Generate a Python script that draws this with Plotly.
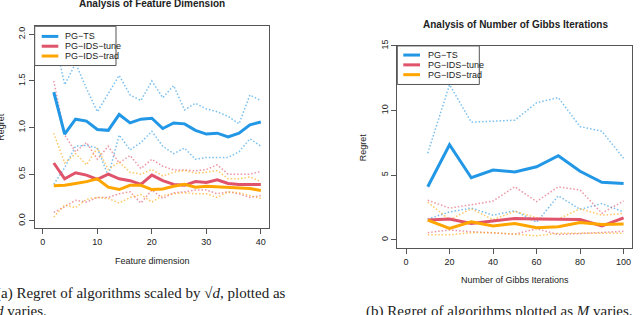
import plotly.graph_objects as go

# ---------------- data ----------------
dims = [2, 4, 6, 8, 10, 12, 14, 16, 18, 20, 22, 24, 26, 28, 30, 32, 34, 36, 38, 40]
ts_mean = [1.38, 0.93, 1.09, 1.07, 0.98, 0.97, 1.14, 1.05, 1.09, 1.10, 0.99, 1.05, 1.04, 0.97, 0.93, 0.94, 0.90, 0.94, 1.03, 1.06]
ts_upper = [2.00, 1.46, 1.69, 1.42, 1.17, 1.36, 1.56, 1.35, 1.29, 1.50, 1.32, 1.45, 1.19, 1.26, 1.20, 1.17, 1.12, 1.04, 1.35, 1.29]
ts_lower = [0.39, 0.57, 0.80, 0.81, 0.78, 0.48, 0.92, 0.76, 0.84, 0.96, 0.80, 0.72, 0.78, 0.66, 0.68, 0.68, 0.68, 0.74, 0.88, 0.80]
tune_mean = [0.62, 0.45, 0.515, 0.49, 0.445, 0.50, 0.45, 0.43, 0.39, 0.49, 0.43, 0.39, 0.38, 0.42, 0.41, 0.44, 0.40, 0.39, 0.39, 0.39]
tune_upper = [1.50, 0.92, 0.74, 0.84, 0.66, 0.80, 0.62, 0.70, 0.56, 0.66, 0.585, 0.545, 0.545, 0.535, 0.55, 0.60, 0.50, 0.50, 0.50, 0.53]
tune_lower = [0.09, 0.15, 0.22, 0.20, 0.25, 0.25, 0.29, 0.31, 0.19, 0.33, 0.24, 0.30, 0.31, 0.33, 0.33, 0.29, 0.31, 0.29, 0.25, 0.27]
trad_mean = [0.375, 0.38, 0.40, 0.42, 0.45, 0.36, 0.335, 0.38, 0.38, 0.335, 0.34, 0.37, 0.39, 0.36, 0.37, 0.365, 0.36, 0.355, 0.345, 0.325]
trad_upper = [0.94, 0.62, 0.72, 0.60, 0.78, 0.55, 0.63, 0.52, 0.50, 0.55, 0.48, 0.52, 0.54, 0.51, 0.52, 0.54, 0.45, 0.45, 0.47, 0.42]
trad_lower = [0.04, 0.17, 0.14, 0.23, 0.25, 0.24, 0.19, 0.25, 0.28, 0.20, 0.27, 0.29, 0.30, 0.29, 0.29, 0.25, 0.31, 0.30, 0.27, 0.24]

iters = [10, 20, 30, 40, 50, 60, 70, 80, 90, 100]
ts_mean2 = [4.1, 7.35, 4.8, 5.4, 5.25, 5.65, 6.5, 5.3, 4.45, 4.35]
ts_upper2 = [6.7, 12.0, 9.1, 9.15, 9.25, 10.6, 11.0, 8.75, 8.4, 6.3]
ts_lower2 = [1.6, 2.15, 2.45, 1.9, 2.25, 1.35, 3.4, 2.35, 2.8, 2.15]
tune_mean2 = [1.52, 1.6, 1.26, 1.44, 1.64, 1.6, 1.57, 1.57, 1.06, 1.69]
tune_upper2 = [3.05, 2.45, 2.7, 3.0, 4.1, 2.95, 4.1, 3.85, 2.05, 3.0]
tune_lower2 = [0.55, 0.76, 0.62, 0.55, 0.43, 0.85, 0.4, 0.48, 0.55, 0.65]
trad_mean2 = [1.52, 0.88, 1.39, 1.06, 1.26, 0.93, 1.01, 1.34, 1.18, 1.22]
trad_upper2 = [2.9, 1.55, 2.4, 1.55, 2.2, 1.7, 1.6, 2.4, 1.9, 2.02]
trad_lower2 = [0.38, 0.38, 0.55, 0.55, 0.43, 0.3, 0.5, 0.5, 0.55, 0.5]

series_names = ["PG\u2212TS", "PG\u2212IDS\u2212tune", "PG\u2212IDS\u2212trad"]
colors = ["#2297E6", "#DF536B", "#FFA500"]

left_x_ticks = [0, 10, 20, 30, 40]
left_y_ticks = [0.0, 0.5, 1.0, 1.5, 2.0]
left_y_labels = ["0.0", "0.5", "1.0", "1.5", "2.0"]
right_x_ticks = [0, 20, 40, 60, 80, 100]
right_y_ticks = [0, 5, 10, 15]

# ---------------- figure ----------------
W, H = 640, 315
def fx(p):
    return p / W
def fy(p):
    return 1 - p / H

SANS = "Liberation Sans, Arial, sans-serif"
SERIF = "Liberation Serif, Times New Roman, serif"
TXT = "#222222"
AX = "#555555"

fig = go.Figure()

panels = [
    ("x", "y", dims, [(ts_mean, ts_upper, ts_lower), (tune_mean, tune_upper, tune_lower), (trad_mean, trad_upper, trad_lower)]),
    ("x2", "y2", iters, [(ts_mean2, ts_upper2, ts_lower2), (tune_mean2, tune_upper2, tune_lower2), (trad_mean2, trad_upper2, trad_lower2)]),
]
for xa, ya, xs, groups in panels:
    for (mean, up, lo), name, col in zip(groups, series_names, colors):
        for band in (up, lo):
            fig.add_trace(go.Scatter(x=xs, y=band, mode="lines", xaxis=xa, yaxis=ya,
                                     line=dict(color=col, width=1.5, dash="1.5px,2px"), opacity=0.6,
                                     showlegend=False, hoverinfo="skip"))
    for (mean, up, lo), name, col in zip(groups, series_names, colors):
        fig.add_trace(go.Scatter(x=xs, y=mean, mode="lines", name=name, xaxis=xa, yaxis=ya,
                                 line=dict(color=col, width=3), showlegend=False))

def axis(domain, rng, tickvals, ticktext=None, angle=None, anchor=None):
    d = dict(domain=domain, range=rng, showline=True, mirror=True, linecolor=AX, linewidth=1,
             ticks="outside", ticklen=5, tickcolor=AX, tickwidth=1, showgrid=False, zeroline=False,
             tickvals=tickvals, tickfont=dict(family=SANS, size=9, color=TXT), anchor=anchor)
    if ticktext is not None:
        d["ticktext"] = ticktext
    if angle is not None:
        d["tickangle"] = angle
    return d

fig.update_layout(
    width=W, height=H, margin=dict(l=0, r=0, t=0, b=0),
    paper_bgcolor="white", plot_bgcolor="white", showlegend=False,
    xaxis=axis([fx(34.7), fx(269)], [-1.5, 41.5], left_x_ticks, anchor="y"),
    yaxis=axis([fy(226.5), fy(20.7)], [-0.08, 2.087], left_y_ticks, left_y_labels, angle=-90, anchor="x"),
    xaxis2=axis([fx(397.3), fx(632.3)], [-4, 104], right_x_ticks, anchor="y2"),
    yaxis2=axis([fy(246.7), fy(40.7)], [-0.64, 15.0], right_y_ticks, angle=-90, anchor="x2"),
)

shapes = []
annotations = []

# legends (R-style topleft boxes)
legend_specs = [
    dict(box=(34.7, 20.7, 116, 60.7), rows=[31, 41, 51], line=(41.7, 58.3), text_x=64),
    dict(box=(397.3, 40.7, 479.3, 80), rows=[50, 60, 70], line=(403.3, 420), text_x=427.3),
]
for spec in legend_specs:
    x0, y0, x1, y1 = spec["box"]
    shapes.append(dict(type="rect", xref="paper", yref="paper", x0=fx(x0), x1=fx(x1), y0=fy(y1), y1=fy(y0),
                       line=dict(color=AX, width=1), fillcolor="white", layer="above"))
    for ry, name, col in zip(spec["rows"], series_names, colors):
        shapes.append(dict(type="line", xref="paper", yref="paper", x0=fx(spec["line"][0]), x1=fx(spec["line"][1]),
                           y0=fy(ry), y1=fy(ry), line=dict(color=col, width=3), layer="above"))
        annotations.append(dict(text=name, xref="paper", yref="paper", x=fx(spec["text_x"]), y=fy(ry),
                                xanchor="left", yanchor="middle", showarrow=False, borderpad=0,
                                font=dict(family=SANS, size=9, color=TXT)))

def label(text, x, y, size=9, bold=False, angle=0, family=SANS, xanchor="center", yanchor="middle", align="center"):
    t = f"<b>{text}</b>" if bold else text
    annotations.append(dict(text=t, xref="paper", yref="paper", x=fx(x), y=fy(y), xanchor=xanchor,
                            yanchor=yanchor, showarrow=False, textangle=angle, align=align, borderpad=0,
                            font=dict(family=family, size=size, color=TXT)))

label("Analysis of Feature Dimension", 152, -3, size=10, bold=True)
label("Analysis of Number of Gibbs Iterations", 515, 18.5, size=10, bold=True)
label("Feature dimension", 152, 260, size=9)
label("Number of Gibbs Iterations", 515, 279.5, size=9)
label("Regret", 1.5, 123.6, size=9, angle=-90)
label("Regret", 363.3, 143.7, size=9, angle=-90)

label("(a) Regret of algorithms scaled by \u221a<i>d</i>, plotted as", -5, 293,
      size=15, family=SERIF, xanchor="left")
label("<i>d</i> varies.", -5, 311, size=15, family=SERIF, xanchor="left")
label("(b) Regret of algorithms plotted as <i>M</i> varies.", 365, 311,
      size=15, family=SERIF, xanchor="left")

fig.update_layout(shapes=shapes, annotations=annotations)
fig.write_html("out.html", config={"displayModeBar": False},
               post_script="document.body.style.margin='0px';document.body.style.overflow='hidden';")
